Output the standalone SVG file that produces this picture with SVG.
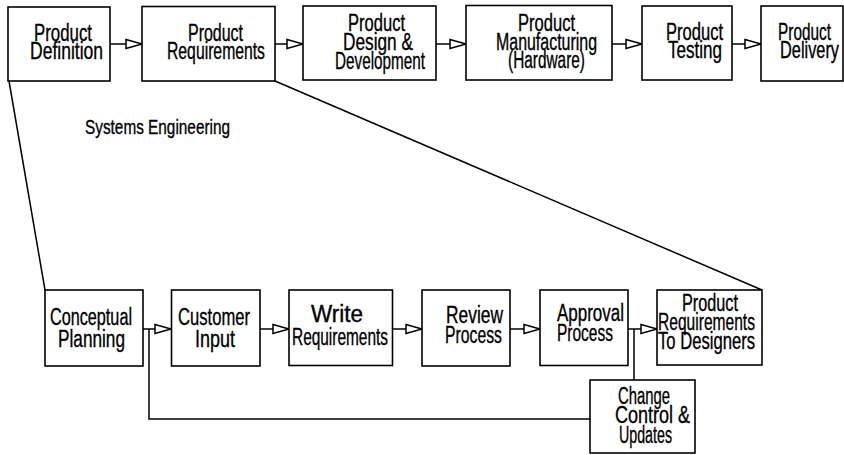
<svg xmlns="http://www.w3.org/2000/svg" width="844" height="455" viewBox="0 0 844 455">
<defs>
<style>
.box{fill:#fff;stroke:#000;stroke-width:1.6}
.ln{fill:none;stroke:#000;stroke-width:1.5}
text{font-family:"Liberation Sans",Arial,sans-serif;font-size:23px;fill:#000;stroke:#000;stroke-width:0.35;text-anchor:middle}
.se{font-size:21px}
.end{text-anchor:end}
</style>
<marker id="tri" markerUnits="userSpaceOnUse" markerWidth="20" markerHeight="14" refX="17" refY="6" orient="auto">
<path d="M1,1.5 L17,6 L1,10.5 Z" fill="#fff" stroke="#000" stroke-width="1.5"/>
</marker>
</defs>
<rect width="844" height="455" fill="#fff"/>

<g id="connectors">
<line class="ln" x1="110" y1="44" x2="142" y2="44" marker-end="url(#tri)"/>
<line class="ln" x1="275" y1="44" x2="303" y2="44" marker-end="url(#tri)"/>
<line class="ln" x1="436" y1="44" x2="466" y2="44" marker-end="url(#tri)"/>
<line class="ln" x1="612" y1="44" x2="642" y2="44" marker-end="url(#tri)"/>
<line class="ln" x1="732" y1="44" x2="761" y2="44" marker-end="url(#tri)"/>
<line class="ln" x1="143" y1="329" x2="171" y2="329" marker-end="url(#tri)"/>
<line class="ln" x1="260" y1="329" x2="289" y2="329" marker-end="url(#tri)"/>
<line class="ln" x1="392" y1="329" x2="422" y2="329" marker-end="url(#tri)"/>
<line class="ln" x1="510" y1="329" x2="540" y2="329" marker-end="url(#tri)"/>
<line class="ln" x1="628" y1="329" x2="657" y2="329" marker-end="url(#tri)"/>
<polyline class="ln" points="149,329 149,419 590,419"/>
<line class="ln" x1="634" y1="329" x2="634" y2="380"/>
<line class="ln" x1="9" y1="81" x2="45" y2="290"/>
<line class="ln" x1="275" y1="81" x2="762" y2="290"/>
</g>

<g id="product-definition">
<rect class="box" x="8" y="7" width="102" height="74"/>
<text><tspan x="63" y="41" textLength="58" lengthAdjust="spacingAndGlyphs">Product</tspan><tspan x="66.5" y="59" textLength="73" lengthAdjust="spacingAndGlyphs">Definition</tspan></text>
</g>
<g id="product-requirements">
<rect class="box" x="142" y="6.5" width="133" height="74.5"/>
<text><tspan x="215.5" y="41" textLength="55" lengthAdjust="spacingAndGlyphs">Product</tspan><tspan x="216" y="59" textLength="98" lengthAdjust="spacingAndGlyphs">Requirements</tspan></text>
</g>
<g id="product-design">
<rect class="box" x="303" y="6" width="133" height="74"/>
<text><tspan x="376.5" y="31" textLength="57" lengthAdjust="spacingAndGlyphs">Product</tspan><tspan x="378" y="50" textLength="70" lengthAdjust="spacingAndGlyphs">Design &amp;</tspan><tspan x="380" y="69" textLength="90" lengthAdjust="spacingAndGlyphs">Development</tspan></text>
</g>
<g id="product-manufacturing">
<rect class="box" x="466" y="5.5" width="146" height="74.5"/>
<text><tspan x="546.5" y="31" textLength="57" lengthAdjust="spacingAndGlyphs">Product</tspan><tspan x="546.5" y="50" textLength="101" lengthAdjust="spacingAndGlyphs">Manufacturing</tspan><tspan x="546.5" y="68" textLength="77" lengthAdjust="spacingAndGlyphs">(Hardware)</tspan></text>
</g>
<g id="product-testing">
<rect class="box" x="642" y="6" width="90" height="74"/>
<text><tspan x="694.5" y="40" textLength="57" lengthAdjust="spacingAndGlyphs">Product</tspan><tspan x="695" y="58" textLength="54" lengthAdjust="spacingAndGlyphs">Testing</tspan></text>
</g>
<g id="product-delivery">
<rect class="box" x="761" y="6" width="82" height="75"/>
<text class="end" transform="translate(831,40) scale(0.668,1)">Product</text>
<text class="end" transform="translate(839,58) scale(0.71,1)">Delivery</text>
</g>

<g id="systems-engineering-label">
<text class="se" x="157.5" y="134" textLength="145" lengthAdjust="spacingAndGlyphs">Systems Engineering</text>
</g>

<g id="conceptual-planning">
<rect class="box" x="45" y="290" width="98" height="76"/>
<text><tspan x="91" y="325" textLength="82" lengthAdjust="spacingAndGlyphs">Conceptual</tspan><tspan x="91.5" y="347" textLength="67" lengthAdjust="spacingAndGlyphs">Planning</tspan></text>
</g>
<g id="customer-input">
<rect class="box" x="171.5" y="290" width="88.5" height="76"/>
<text><tspan x="214" y="325" textLength="72" lengthAdjust="spacingAndGlyphs">Customer</tspan><tspan x="215" y="347" textLength="40" lengthAdjust="spacingAndGlyphs">Input</tspan></text>
</g>
<g id="write-requirements">
<rect class="box" x="289" y="290" width="103.5" height="75.5"/>
<text><tspan x="337" y="322" textLength="52" lengthAdjust="spacingAndGlyphs">Write</tspan><tspan x="340" y="345" textLength="96" lengthAdjust="spacingAndGlyphs">Requirements</tspan></text>
</g>
<g id="review-process">
<rect class="box" x="422" y="290" width="88" height="76"/>
<text><tspan x="474.5" y="323" textLength="57" lengthAdjust="spacingAndGlyphs">Review</tspan><tspan x="473.5" y="343" textLength="57" lengthAdjust="spacingAndGlyphs">Process</tspan></text>
</g>
<g id="approval-process">
<rect class="box" x="540" y="290" width="88" height="75.5"/>
<text><tspan x="590.5" y="321" textLength="67" lengthAdjust="spacingAndGlyphs">Approval</tspan><tspan x="585" y="341" textLength="56" lengthAdjust="spacingAndGlyphs">Process</tspan></text>
</g>
<g id="product-requirements-to-designers">
<rect class="box" x="657" y="290" width="105" height="75"/>
<text><tspan x="710" y="311" textLength="56" lengthAdjust="spacingAndGlyphs">Product</tspan><tspan x="706.5" y="330" textLength="97" lengthAdjust="spacingAndGlyphs">Requirements</tspan><tspan x="706.5" y="349" textLength="97" lengthAdjust="spacingAndGlyphs">To Designers</tspan></text>
</g>
<g id="change-control">
<rect class="box" x="590" y="380" width="105" height="73"/>
<text><tspan x="644" y="404" textLength="52" lengthAdjust="spacingAndGlyphs">Change</tspan><tspan x="652.5" y="423" textLength="75" lengthAdjust="spacingAndGlyphs">Control &amp;</tspan><tspan x="645.5" y="443" textLength="53" lengthAdjust="spacingAndGlyphs">Updates</tspan></text>
</g>
</svg>
